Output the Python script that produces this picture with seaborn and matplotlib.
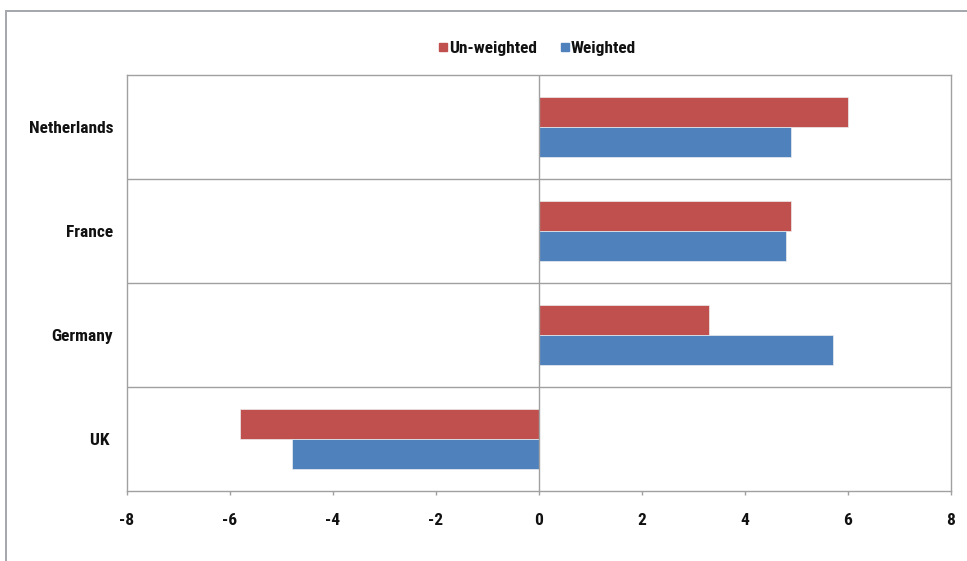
import matplotlib
matplotlib.use("Agg")
import matplotlib.pyplot as plt
from matplotlib.patches import Rectangle
from matplotlib.lines import Line2D
import seaborn as sns
import pandas as pd

countries = ["Netherlands", "France", "Germany", "UK "]
unweighted = [6.0, 4.9, 3.3, -5.8]
weighted = [4.9, 4.8, 5.7, -4.8]
series = ["Un-weighted", "Weighted"]
colors = ["#C0504D", "#4F81BD"]
xticks = [-8, -6, -4, -2, 0, 2, 4, 6, 8]

df = pd.DataFrame({
    "country": countries * 2,
    "value": unweighted + weighted,
    "series": [series[0]] * len(countries) + [series[1]] * len(countries),
})

sns.set_theme(style="white")
plt.rcParams["font.family"] = ["Roboto Condensed", "DejaVu Sans"]
plt.rcParams["font.weight"] = "bold"

W, H = 967, 561
fig = plt.figure(figsize=(W / 100, H / 100), dpi=100)
fig.patch.set_facecolor("white")

# outer chart frame
fig.add_artist(Rectangle((5.5 / W, -0.2), 1.2, 1.2 - 10.5 / H,
                         transform=fig.transFigure, fill=False,
                         edgecolor="#A3A7AB", linewidth=1.4, zorder=0))

ax = fig.add_axes([127 / W, 1 - 491 / H, (951 - 127) / W, (491 - 75) / H])

grid = "#A0A0A0"
sns.barplot(data=df, y="country", x="value", hue="series", orient="h",
            palette=colors, width=0.58, ax=ax, legend=False,
            edgecolor="#EDEDED", linewidth=0.5, saturation=1, zorder=3)

ax.set_xlim(-8, 8)
ax.set_ylim(3.5, -0.5)
ax.set_xticks(xticks)
ax.set_xticklabels([str(t) for t in xticks])
ax.set_xlabel("")
ax.set_ylabel("")

for yb in [0.5, 1.5, 2.5]:
    ax.axhline(yb, color=grid, lw=1.0, zorder=1)
ax.axvline(0, color=grid, lw=1.0, zorder=4)

for s in ax.spines.values():
    s.set_color(grid)
    s.set_linewidth(1.0)
    s.set_visible(True)

fs = 12.5
ax.tick_params(axis="x", direction="out", length=3, width=1, color=grid,
               pad=13, labelsize=fs, labelcolor="#111111", bottom=True)
ax.tick_params(axis="y", length=0, pad=10, labelsize=fs, labelcolor="#111111")
for lbl in ax.get_xticklabels() + ax.get_yticklabels():
    lbl.set_fontweight("bold")

handles = [Line2D([], [], marker="s", linestyle="none", markersize=6,
                  markerfacecolor=c, markeredgecolor=c) for c in colors]
fig.legend(handles, series, loc="center", bbox_to_anchor=(537 / W, 1 - 48.5 / H),
           ncol=2, frameon=False, handlelength=0.6, handletextpad=0.05,
           columnspacing=1.3, prop={"size": fs, "weight": "bold"},
           labelcolor="#111111")

fig.savefig("out.png", dpi=100, facecolor="white")
